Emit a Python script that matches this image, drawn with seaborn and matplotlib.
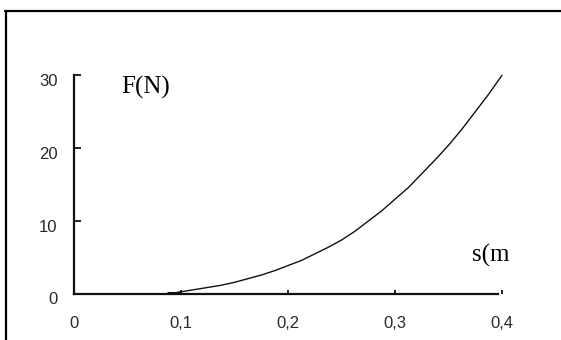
import matplotlib
matplotlib.use("Agg")
import matplotlib.pyplot as plt
from matplotlib.lines import Line2D
from matplotlib.transforms import ScaledTranslation
import seaborn as sns
import pandas as pd

# Spring force F (N) against displacement s (m)
s_values = [0.087, 0.1, 0.1125, 0.125, 0.1375, 0.15, 0.1625, 0.175, 0.1875, 0.2,
            0.2125, 0.225, 0.2375, 0.25, 0.2625, 0.275, 0.2875, 0.3, 0.3125,
            0.325, 0.3375, 0.35, 0.3625, 0.375, 0.3875, 0.4]
f_values = [0.0, 0.3, 0.6, 0.9, 1.2, 1.6, 2.1, 2.6, 3.2, 3.9,
            4.6, 5.5, 6.4, 7.4, 8.6, 10.0, 11.4, 13.0, 14.6,
            16.5, 18.4, 20.4, 22.6, 25.0, 27.4, 30.0]
x_ticks = [0, 0.1, 0.2, 0.3, 0.4]
x_tick_labels = ["0", "0,1", "0,2", "0,3", "0,4"]
y_ticks = [0, 10, 20, 30]
y_tick_labels = ["0", "10", "20", "30"]

sns.set_theme(style="white")
plt.rcParams["font.family"] = ["Liberation Sans", "DejaVu Sans"]

df = pd.DataFrame({"s": s_values, "F": f_values})

dpi = 100
fig = plt.figure(figsize=(5.61, 3.40), dpi=dpi)
fig.patch.set_facecolor("white")
ax = fig.add_axes([74 / 561, 1 - 294 / 340, (502 - 74) / 561, (294 - 75.3) / 340])
ax.set_facecolor("white")

sns.lineplot(data=df, x="s", y="F", ax=ax, color="#111111", linewidth=1.0,
             estimator=None, sort=False, clip_on=False)
# short heavy stretch where the curve leaves the axis
ax.plot([0.087, 0.1], [0.1, 0.1], color="#111111", linewidth=2.2,
        solid_capstyle="butt", clip_on=False)

ax.set_xlim(0, 0.4)
ax.set_ylim(0, 30)
ax.set_xlabel("")
ax.set_ylabel("")

for side in ("top", "right"):
    ax.spines[side].set_visible(False)
for side in ("left", "bottom"):
    ax.spines[side].set_linewidth(1.6)
    ax.spines[side].set_color("#111111")
ax.spines["bottom"].set_bounds(0, 0.396)

ax.set_xticks(x_ticks)
ax.set_xticklabels(x_tick_labels)
ax.set_yticks(y_ticks)
ax.set_yticklabels(y_tick_labels)
ax.tick_params(axis="x", bottom=True, direction="in", length=3, width=1.3,
               color="#111111", pad=15.5, labelsize=12, labelcolor="#2a2a2a")
ax.tick_params(axis="y", left=True, direction="in", length=5, width=1.3,
               color="#111111", pad=12, labelsize=12, labelcolor="#2a2a2a")
shift = ScaledTranslation(0, -4.5 / dpi, fig.dpi_scale_trans)
for lbl in ax.get_yticklabels():
    lbl.set_transform(lbl.get_transform() + shift)

serif = ["Liberation Serif", "DejaVu Serif"]
ax.text(0.044, 28.4, "F(N)", family=serif, fontsize=18, color="black",
        ha="left", va="center")
ax.text(0.372, 5.3, "s(m", family=serif, fontsize=18, color="black",
        ha="left", va="center")

# Frame edges along the top and left of the figure
fig.add_artist(Line2D([5 / 561, 1], [1 - 10.5 / 340, 1 - 10.5 / 340],
                      transform=fig.transFigure, color="black", linewidth=1.6))
fig.add_artist(Line2D([6 / 561, 6 / 561], [0, 1 - 10.5 / 340],
                      transform=fig.transFigure, color="black", linewidth=1.6))

fig.savefig("out.png", dpi=dpi, facecolor="white")
